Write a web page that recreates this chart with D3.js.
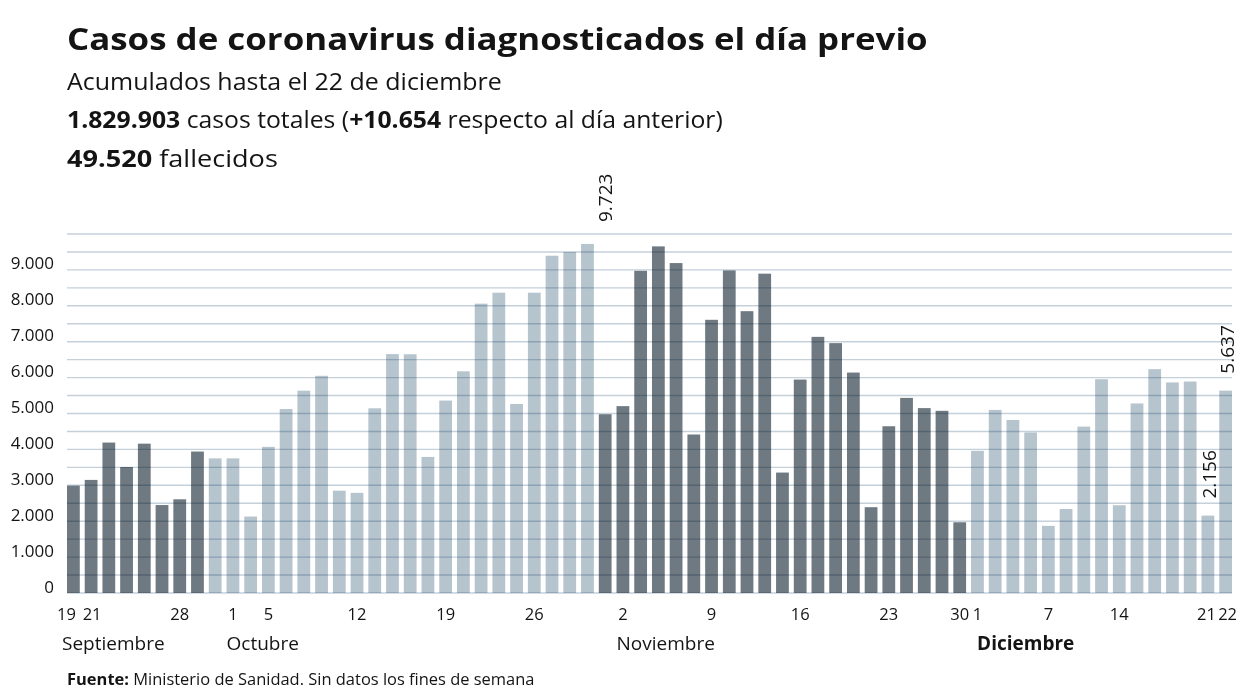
<!DOCTYPE html>
<html><head><meta charset="utf-8">
<script src="https://cdn.jsdelivr.net/npm/d3@7"></script>
<style>
body{margin:0;background:#fff}
svg{display:block}
text{font-family:"Open Sans",sans-serif;fill:#141414}
</style>
</head><body>
<svg id="chart" width="1240" height="698"></svg>
<script>
// ---------- DATA ----------
const dates = [
  "19-sep","21-sep","22-sep","23-sep","24-sep","25-sep","28-sep","29-sep","30-sep",
  "1-oct","2-oct","5-oct","6-oct","7-oct","8-oct","9-oct","12-oct","13-oct","14-oct","15-oct","16-oct",
  "19-oct","20-oct","21-oct","22-oct","23-oct","26-oct","27-oct","28-oct","29-oct","30-oct",
  "2-nov","3-nov","4-nov","5-nov","6-nov","9-nov","10-nov","11-nov","12-nov","13-nov",
  "16-nov","17-nov","18-nov","19-nov","20-nov","23-nov","24-nov","25-nov","26-nov","30-nov",
  "1-dic","2-dic","3-dic","4-dic","7-dic","9-dic","10-dic","11-dic","14-dic","15-dic","16-dic","17-dic","18-dic","21-dic","22-dic"
];
const cases = [
  2990,3150,4190,3510,4160,2450,2610,3940,3750,
  3750,2130,4070,5125,5635,6050,2850,2790,5145,6655,6650,3790,
  5360,6175,8060,8365,5265,8365,9395,9500,9723,4980,
  5205,8975,9655,9190,4415,7610,8985,7850,8895,3355,
  5945,7135,6960,6140,2390,4645,5435,5150,5075,1970,
  3960,5100,4820,4470,1870,2340,4635,5955,2445,5280,6235,5865,5890,2156,5637
];
const tickDates  = ["19-sep","21-sep","28-sep","1-oct","5-oct","12-oct","19-oct","26-oct","2-nov","9-nov","16-nov","23-nov","30-nov","1-dic","7-dic","14-dic","21-dic","22-dic"];
const tickLabels = ["19","21","28","1","5","12","19","26","2","9","16","23","30","1","7","14","21","22"];
const yTickValues = [0,1000,2000,3000,4000,5000,6000,7000,8000,9000];
const gridValues = [0,500,1000,1500,2000,2500,3000,3500,4000,4500,5000,5500,6000,6500,7000,7500,8000,8500,9000,9500,10000];
const monthNames  = ["Septiembre","Octubre","Noviembre","Diciembre"];
const monthStarts = ["19-sep","1-oct","2-nov","1-dic"];
const monthBold   = [false,false,false,true];
const darkRanges  = [["19-sep","29-sep"],["30-oct","30-nov"]];
const annotated   = ["29-oct","21-dic","22-dic"];

const title    = "Casos de coronavirus diagnosticados el día previo";
const subtitle = "Acumulados hasta el 22 de diciembre";
const line3    = [["1.829.903",true],[" casos totales (",false],["+10.654",true],[" respecto al día anterior)",false]];
const line4    = [["49.520",true],[" fallecidos",false]];
const footer   = [["Fuente:",true],[" Ministerio de Sanidad. Sin datos los fines de semana",false]];

// ---------- SETUP ----------
const svg = d3.select("#chart");
const es = d3.formatLocale({decimal:",", thousands:".", grouping:[3], currency:["","€"]});
const fmt = es.format(",");

const x = d3.scaleBand().domain(dates).range([67, 1232]).paddingInner(0.28).paddingOuter(0);
const y = d3.scaleLinear().domain([0, 10000]).range([593, 234]);
const bw = x.bandwidth();

const DARK = "#6e7981", LIGHT = "#b6c4ce";
const idx = d => dates.indexOf(d);
function isDark(i){
  return darkRanges.some(([a,b]) => i >= idx(a) && i <= idx(b));
}

// ---------- HEADER ----------
function fitLine(parts, xPos, yPos, size, width){
  const t = svg.append("text").attr("font-size", size);
  parts.forEach(([s,b]) => t.append("tspan").attr("font-weight", b ? 700 : 400).text(s));
  const w = t.node().getBBox().width;
  t.attr("transform", `translate(${xPos},${yPos}) scale(${width / w},1)`);
  return t;
}
fitLine([[title,true]], 67, 50, 31, 861);
fitLine([[subtitle,false]], 67, 90, 24, 435);
fitLine(line3, 67, 128, 24, 656);
fitLine(line4, 67, 167, 24, 211);
fitLine(footer, 67, 685, 16, 468);

// ---------- BARS ----------
svg.append("g").selectAll("rect").data(cases).join("rect")
  .attr("x", (d,i) => x(dates[i]))
  .attr("y", d => y(d))
  .attr("width", bw)
  .attr("height", d => y(0) - y(d))
  .attr("fill", (d,i) => isDark(i) ? DARK : LIGHT);

// ---------- GRID (multiplied over bars) ----------
svg.append("g").style("mix-blend-mode","multiply")
  .selectAll("line").data(gridValues).join("line")
  .attr("x1", 67).attr("x2", 1232)
  .attr("y1", d => y(d)).attr("y2", d => y(d))
  .attr("stroke", "#c4d1db").attr("stroke-width", 1.4);

// ---------- Y AXIS LABELS ----------
const yAxis = d3.axisLeft(y).tickValues(yTickValues).tickFormat(fmt).tickSize(0).tickPadding(0);
const gy = svg.append("g").attr("transform", "translate(54,0)").call(yAxis);
gy.select(".domain").remove();
gy.selectAll("text").attr("font-size", 17).attr("font-family", "Open Sans").attr("fill", "#1e1e1e")
  .attr("dy", "-1px").attr("text-anchor", "end");

// ---------- X AXIS LABELS ----------
const tickShift = {"19-sep": -7, "21-sep": 1, "21-dic": -1.5, "22-dic": 2};
const xAxis = d3.axisBottom(x).tickValues(tickDates)
  .tickFormat(d => tickLabels[tickDates.indexOf(d)]).tickSize(0).tickPadding(0);
const gx = svg.append("g").attr("transform", "translate(0,620)").call(xAxis);
gx.select(".domain").remove();
gx.selectAll("text").attr("font-size", 16.5).attr("font-family", "Open Sans").attr("fill", "#1e1e1e")
  .attr("y", 0).attr("dy", 0)
  .attr("dx", d => tickShift[d] || 0);

// ---------- MONTH LABELS ----------
svg.append("g").selectAll("text").data(monthNames).join("text")
  .attr("x", (d,i) => x(monthStarts[i]) - (i === 0 ? 5 : 0) + (i === 3 ? 6 : 0))
  .attr("y", 650)
  .attr("font-size", 19)
  .attr("font-weight", (d,i) => monthBold[i] ? 700 : 400)
  .text(d => d);

// ---------- ANNOTATIONS ----------
svg.append("g").selectAll("text").data(annotated).join("text")
  .attr("transform", d => {
    const i = idx(d);
    const v = cases[i];
    const cx = x(d) + bw/2 + (i === idx("29-oct") ? 25 : 8);
    const by = i === idx("29-oct") ? y(10000) - 12 : y(v) - 17;
    return `translate(${cx},${by}) rotate(-90)`;
  })
  .attr("font-size", 19)
  .attr("fill", "#1e1e1e")
  .text(d => fmt(cases[idx(d)]));
</script>
</body></html>
